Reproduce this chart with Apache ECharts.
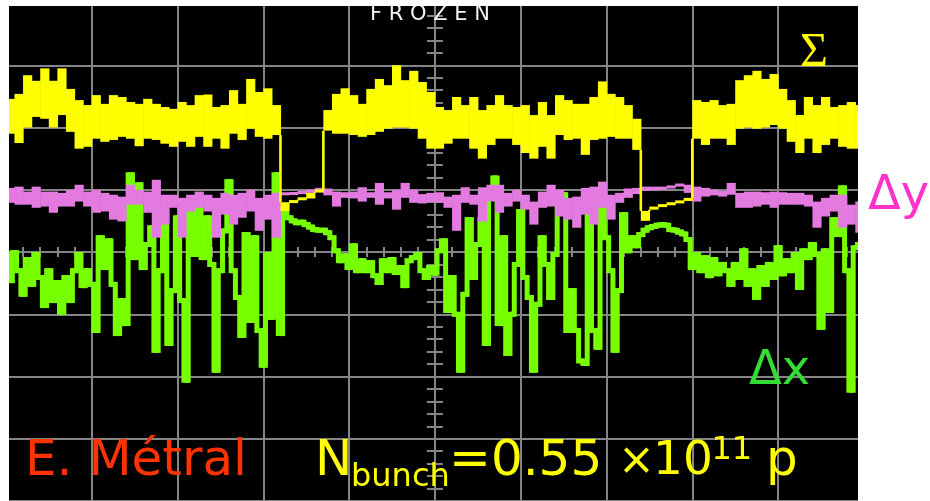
<!DOCTYPE html>
<html><head><meta charset="utf-8">
<script src="https://cdn.jsdelivr.net/npm/echarts@6/dist/echarts.min.js"></script>
<style>html,body{margin:0;padding:0;background:#fff}#c{width:930px;height:501px}</style>
</head><body><div id="c"></div>
<script>
// Screen in divisions: 10 horizontal, 8 vertical
const X_MIN = -5, X_MAX = 5, Y_MIN = -4, Y_MAX = 4;
const BIN = 0.1;      // bin width (div) of the sum / delta-y envelopes
const DX_STEP = 0.05; // sample step (div) of the delta-x trace

// Σ (sum) trace: upper / lower envelope per bin (div)
const sumHi = [2.46,2.54,2.84,2.75,2.95,2.75,2.95,2.62,2.44,2.36, 2.52,2.38,2.52,2.49,2.41,2.38,2.46,2.38,2.33,2.30,
  2.41,2.36,2.52,2.53,2.33,2.36,2.60,2.38,2.78,2.57, 2.63,2.36,0.80,0.83,0.87,0.95,1.00,2.28,2.54,2.63,
  2.52,2.38,2.62,2.78,2.68,3.00,2.76,2.91,2.73,2.57, 2.33,2.28,2.49,2.36,2.49,2.28,2.36,2.52,2.36,2.33,
  2.36,2.20,2.41,2.20,2.52,2.44,2.38,2.38,2.49,2.74, 2.54,2.49,2.36,2.14,0.66,0.73,0.76,0.79,0.82,0.87,
  2.44,2.41,2.44,2.36,2.38,2.76,2.84,2.91,2.78,2.86, 2.62,2.44,2.20,2.49,2.36,2.49,2.33,2.36,2.41,2.36];
const sumLo = [1.90,1.75,2.00,2.17,2.14,2.00,2.20,1.93,1.66,1.69, 1.82,1.77,1.80,1.85,1.82,1.70,1.82,1.80,1.74,1.69,
  1.77,1.69,1.85,1.69,1.82,1.66,1.90,1.80,1.98,1.85, 1.82,1.88,0.66,0.79,0.84,0.86,0.96,1.95,1.90,1.90,
  1.88,1.85,1.88,1.93,1.98,2.00,2.00,1.98,1.82,1.66, 1.66,1.74,1.82,1.82,1.66,1.50,1.72,1.82,1.82,1.72,
  1.59,1.50,1.69,1.50,1.88,1.80,1.82,1.56,1.80,1.82, 1.85,1.82,1.82,1.64,0.50,0.68,0.73,0.76,0.79,0.82,
  1.82,1.72,1.82,1.82,1.72,1.98,2.00,1.98,2.00,2.04, 1.98,1.77,1.59,1.82,1.59,1.72,1.82,1.69,1.66,1.66];

// Δy trace: upper / lower envelope per bin (div)
const dyHi = [1.03,1.05,0.97,1.05,0.97,0.97,0.95,1.00,1.08,0.97, 1.00,0.95,0.92,0.89,1.08,1.00,0.97,1.16,0.92,0.92,
  0.87,0.92,0.97,0.92,0.87,0.95,0.92,0.95,1.00,0.87, 0.92,0.95,0.96,0.96,0.98,1.00,1.03,1.02,0.97,0.96,
  0.97,1.04,0.96,1.11,0.96,1.00,1.11,1.00,0.93,0.95, 0.96,0.89,0.92,1.04,0.92,1.04,1.08,1.08,0.95,1.00,
  0.92,0.81,0.97,1.08,1.00,0.87,0.89,1.03,1.05,1.13, 0.92,0.95,1.02,1.03,1.05,1.05,1.05,1.07,1.10,1.08,
  1.05,1.03,1.00,0.98,1.11,0.95,0.97,0.97,0.96,0.97, 0.96,0.95,0.95,0.92,0.81,0.87,0.92,0.92,0.76,0.81];
const dyLo = [0.79,0.76,0.76,0.71,0.73,0.63,0.73,0.73,0.81,0.73, 0.63,0.65,0.52,0.49,0.76,0.76,0.63,0.23,0.44,0.71,
  0.23,0.65,0.71,0.65,0.23,0.60,0.44,0.55,0.65,0.34, 0.52,0.23,0.91,0.92,0.93,0.95,0.96,0.91,0.73,0.87,
  0.86,0.81,0.87,0.76,0.86,0.68,0.87,0.79,0.78,0.80, 0.79,0.71,0.34,0.79,0.76,0.49,0.81,0.63,0.73,0.81,
  0.68,0.44,0.71,0.73,0.57,0.52,0.39,0.60,0.44,0.71, 0.52,0.79,0.87,0.93,0.98,0.99,1.00,1.02,1.05,0.95,
  0.81,0.89,0.91,0.89,0.92,0.71,0.71,0.73,0.76,0.71, 0.76,0.76,0.76,0.73,0.39,0.57,0.65,0.39,0.44,0.31];

// Δx trace: one sample per DX_STEP (div)
const dxVals = [
  -0.04,-0.46,-0.01,-0.30,-0.68,-0.12,-0.52,-0.04,-0.41,-0.86,
  -0.30,-0.78,-0.49,-0.97,-0.41,-0.78,-0.30,-0.04,-0.54,-0.30,
  -0.52,-1.26,0.23,-0.25,0.18,-0.52,-1.31,-0.78,-1.15,1.24,
  -0.09,1.08,-0.25,0.12,0.39,-1.58,-0.30,0.65,-1.47,-0.62,
  0.55,-0.78,-2.06,0.81,-0.04,0.87,-0.09,0.55,-0.20,-1.90,
  -0.30,0.34,1.13,-0.30,-0.73,-1.34,0.28,-1.10,0.23,-1.26,
  -1.82,-0.04,-1.05,1.24,-1.31,0.63,0.55,0.50,0.47,0.48,
  0.44,0.40,0.36,0.35,0.35,0.31,0.23,0.02,-0.14,-0.06,
  -0.25,0.10,-0.30,-0.14,-0.30,-0.17,-0.38,-0.49,-0.14,-0.30,
  -0.12,-0.33,-0.25,-0.54,-0.14,-0.09,-0.04,-0.30,-0.41,-0.25,
  -0.34,0.02,0.18,-0.94,-0.41,-1.00,-1.90,-0.68,0.52,-0.41,
  0.12,0.52,-1.47,0.87,1.19,-1.15,0.23,-1.63,-1.00,-0.20,
  0.65,-0.41,-0.73,-1.90,-0.84,0.23,-0.20,-0.73,-0.04,0.76,
  0.92,-1.26,-0.62,-1.26,-1.75,-1.79,0.97,-1.26,-1.53,0.71,
  0.23,-0.30,-1.58,-0.62,0.60,0.02,0.23,0.10,0.28,0.35,
  0.39,0.41,0.43,0.44,0.43,0.36,0.35,0.32,0.29,0.20,
  -0.25,-0.04,-0.30,-0.09,-0.38,-0.12,-0.35,-0.20,-0.30,-0.52,
  -0.20,-0.41,0.02,-0.52,-0.30,-0.73,-0.25,-0.52,-0.20,-0.41,
  0.07,-0.35,-0.14,-0.30,-0.04,-0.57,0.02,-0.09,0.12,-0.04,
  -1.21,0.02,-0.94,0.52,0.28,1.03,-0.30,-2.22,0.07,0.12];

const GRID_C = '#858585';
const C_SUM = '#ffff00', C_DY = '#e27ae0', C_DX = '#77ff00';

const chart = echarts.init(document.getElementById('c'), null, {renderer: 'canvas'});

// envelope band: one filled column per bin, joined to its neighbour by a thin vertical stroke
function bandSeries(name, lo, hi, color, z) {
  const data = hi.map((h, i) => [X_MIN + i * BIN, lo[i], h]);
  return {
    type: 'custom', name: name, z: z, silent: true,
    data: data,
    encode: {x: 0, y: [1, 2]},
    renderItem: function (params, api) {
      const i = params.dataIndex;
      const x0 = api.value(0);
      const a = api.coord([x0, hi[i]]);
      const b = api.coord([x0 + BIN, lo[i]]);
      let y1 = a[1], y2 = b[1];
      const MINH = 3;
      if (y2 - y1 < MINH) { const c = (y1 + y2) / 2; y1 = c - MINH / 2; y2 = c + MINH / 2; }
      const children = [{type: 'rect', shape: {x: a[0], y: y1, width: b[0] - a[0] + 0.6, height: y2 - y1}, style: {fill: color}}];
      if (i > 0) {
        let from = null, to = null;
        if (lo[i] > hi[i - 1]) { from = hi[i - 1]; to = lo[i]; }
        else if (hi[i] < lo[i - 1]) { from = lo[i - 1]; to = hi[i]; }
        if (from !== null) {
          const p = api.coord([x0, from]), q = api.coord([x0, to]);
          children.push({type: 'rect', shape: {x: p[0] - 1.3, y: Math.min(p[1], q[1]), width: 2.6, height: Math.abs(q[1] - p[1])}, style: {fill: color}});
        }
      }
      return {type: 'group', children: children};
    }
  };
}

// thick stepped trace: plateau per sample plus a vertical stroke joining consecutive samples
function traceSeries(name, vals, step, color, z, thick) {
  const data = vals.map((v, k) => [X_MIN + k * step, v]);
  return {
    type: 'custom', name: name, z: z, silent: true,
    data: data,
    encode: {x: 0, y: 1},
    renderItem: function (params, api) {
      const k = params.dataIndex;
      const x = api.value(0), v = api.value(1);
      const a = api.coord([x - step / 2, v]);
      const b = api.coord([x + step / 2, v]);
      const children = [{type: 'rect', shape: {x: a[0], y: a[1] - thick / 2, width: b[0] - a[0] + 0.5, height: thick}, style: {fill: color}}];
      if (k > 0) {
        const p = api.coord([x - step / 2, vals[k - 1]]);
        const top = Math.min(p[1], a[1]) - thick / 2, bot = Math.max(p[1], a[1]) + thick / 2;
        children.push({type: 'rect', shape: {x: a[0] - thick / 2, y: top, width: thick, height: bot - top}, style: {fill: color}});
      }
      return {type: 'group', children: children};
    }
  };
}

function xAx(pos, withGrid) {
  return {type: 'value', min: X_MIN, max: X_MAX, interval: 1, position: pos,
    axisLine: {show: true, onZero: true, onZeroAxisIndex: 0, lineStyle: {color: GRID_C, width: 2}},
    axisTick: {show: true, length: 5, lineStyle: {color: GRID_C, width: 2}},
    minorTick: {show: true, splitNumber: 5, length: 5, lineStyle: {color: GRID_C, width: 2}},
    axisLabel: {show: false},
    splitLine: {show: withGrid, lineStyle: {color: GRID_C, width: 2}},
    minorSplitLine: {show: false}};
}
function yAx(pos, withGrid) {
  return {type: 'value', min: Y_MIN, max: Y_MAX, interval: 1, position: pos,
    axisLine: {show: true, onZero: true, onZeroAxisIndex: 0, lineStyle: {color: GRID_C, width: 2}},
    axisTick: {show: true, length: 8, lineStyle: {color: GRID_C, width: 2}},
    minorTick: {show: true, splitNumber: 5, length: 8, lineStyle: {color: GRID_C, width: 2}},
    axisLabel: {show: false},
    splitLine: {show: withGrid, lineStyle: {color: GRID_C, width: 2}},
    minorSplitLine: {show: false}};
}

function txt(x, y, text, color, size, family, align, z) {
  return {type: 'text', x: x, y: y, z: z || 120, silent: true,
    style: {text: text, fill: color, fontSize: size, fontFamily: family || 'DejaVu Sans',
      align: align || 'left', verticalAlign: 'middle'}};
}

chart.setOption({
  animation: false,
  backgroundColor: '#ffffff',
  grid: {left: 5.9, top: 3, width: 858, height: 501.6, show: true, backgroundColor: '#000000', borderWidth: 0, containLabel: false},
  xAxis: [xAx('bottom', true), xAx('top', false)],
  yAxis: [yAx('left', true), yAx('right', false)],
  series: [
    traceSeries('Δx', dxVals, DX_STEP, C_DX, 3, 5),
    bandSeries('Δy', dyLo, dyHi, C_DY, 4),
    bandSeries('Σ', sumLo, sumHi, C_SUM, 5)
  ],
  graphic: [
    txt(370, 14.4, 'F R O Z E N', '#f2f2f2', 21, 'DejaVu Sans', 'left', 99),
    {type: 'rect', z: 100, silent: true, shape: {x: 0, y: 0, width: 930, height: 6}, style: {fill: '#ffffff'}},
    {type: 'rect', z: 100, silent: true, shape: {x: 0, y: 0, width: 9, height: 501}, style: {fill: '#ffffff'}},
    {type: 'rect', z: 100, silent: true, shape: {x: 858, y: 0, width: 72, height: 501}, style: {fill: '#ffffff'}},
    txt(814, 53, 'Σ', '#ffff00', 48, 'Liberation Serif', 'center'),
    txt(868, 196.4, 'Δy', '#ff33cc', 48),
    txt(749, 372, 'Δx', '#33dd33', 48),
    txt(25, 462, 'E. Métral', '#ff3300', 50),
    txt(315, 462, 'N', '#ffff00', 50),
    txt(351, 478, 'bunch', '#ffff00', 32),
    txt(449, 462, '=0.55', '#ffff00', 50),
    txt(618, 463, '×', '#ffff00', 44),
    txt(653, 462, '10', '#ffff00', 47),
    txt(711.5, 451, '11', '#ffff00', 32),
    txt(766, 462, 'p', '#ffff00', 50)
  ]
});
</script>
</body></html>
